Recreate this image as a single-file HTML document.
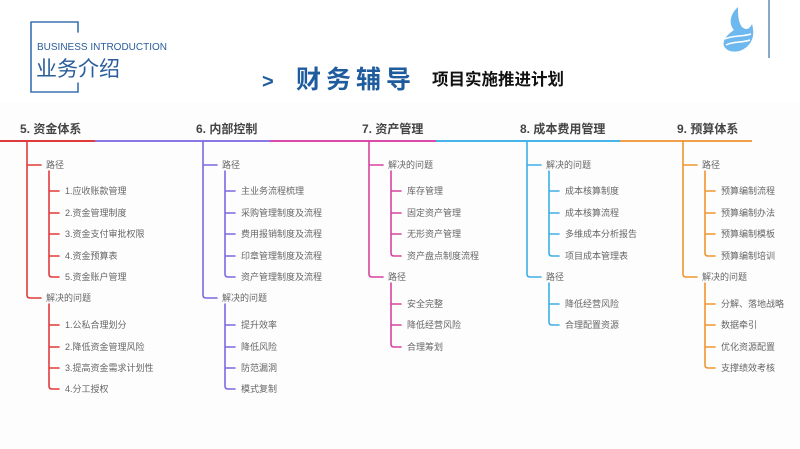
<!DOCTYPE html>
<html><head><meta charset="utf-8"><style>
html,body{margin:0;padding:0;background:#fff;}
svg{display:block;}
text{font-family:"Liberation Sans","Noto Sans CJK SC",sans-serif;}
.t{font-size:9px;fill:#666;}
.h{font-size:12px;font-weight:bold;fill:#444;}
.ln{fill:none;stroke-width:1.6;stroke-linecap:round;}
</style></head><body>
<svg width="800" height="449" viewBox="0 0 800 449" xmlns="http://www.w3.org/2000/svg">
<rect x="0" y="0" width="800" height="449" fill="#fff"/>
<rect x="0" y="103" width="800" height="346" fill="#fdfdfd"/>
<!-- header -->
<path class="ln" d="M31 22H78V32M31 22V92H78V83" stroke="#3a72b0" stroke-width="1.3"/>
<text x="37" y="50" style="font-size:10px;fill:#2a5d9a">BUSINESS INTRODUCTION</text>
<text x="36" y="76" style="font-size:21px;fill:#2a5d9a">业务介绍</text>
<text x="262" y="88" style="font-size:20px;font-weight:bold;fill:#1f5c9e">&gt;</text>
<text x="296" y="88" style="font-size:25px;font-weight:bold;fill:#1f5c9e;letter-spacing:5px">财务辅导</text>
<text x="432" y="85" style="font-size:16.5px;font-weight:bold;fill:#111">项目实施推进计划</text>
<path d="M738 7C728 16 730 26 734 30C728 34 722 40 724 46C727 52 735 53 742 50C750 46 756 38 752 24C749 30 746 30 742 27C738 22 738 14 738 7Z" style="fill:#6db8ee;stroke:none"/>
<path d="M725 39C733 35 742 37 751 34M726 45C734 41 742 43 750 40" style="fill:none;stroke:#fff;stroke-width:1.5"/>
<line x1="769" y1="0" x2="769" y2="58" stroke="#3a6fa8" stroke-width="1.2"/>
<!-- top bar -->
<line x1="0" y1="141" x2="95" y2="141" stroke="#e03b3b" stroke-width="2"/>
<line x1="95" y1="141" x2="270" y2="141" stroke="#8a78e6" stroke-width="2"/>
<line x1="270" y1="141" x2="436" y2="141" stroke="#dc4aa8" stroke-width="2"/>
<line x1="436" y1="141" x2="620" y2="141" stroke="#45b5ea" stroke-width="2"/>
<line x1="620" y1="141" x2="752" y2="141" stroke="#f0a048" stroke-width="2"/>
<text class="h" x="20" y="133">5. 资金体系</text>
<text class="h" x="196" y="133">6. 内部控制</text>
<text class="h" x="362" y="133">7. 资产管理</text>
<text class="h" x="520" y="133">8. 成本费用管理</text>
<text class="h" x="677" y="133">9. 预算体系</text>

<!-- col5 red -->
<g stroke="#e03b3b">
<path class="ln" d="M27 141V295Q27 298 30 298H41M27 165H41"/>
<path class="ln" d="M49 171V274Q49 277 52 277H59M49 191H59M49 213H59M49 234H59M49 256H59"/>
<path class="ln" d="M49 304V386Q49 389 52 389H59M49 325H59M49 347H59M49 368H59"/>
</g>
<text class="t" x="46" y="168">路径</text>
<text class="t" x="65" y="194">1.应收账款管理</text>
<text class="t" x="65" y="216">2.资金管理制度</text>
<text class="t" x="65" y="237">3.资金支付审批权限</text>
<text class="t" x="65" y="259">4.资金预算表</text>
<text class="t" x="65" y="280">5.资金账户管理</text>
<text class="t" x="46" y="301">解决的问题</text>
<text class="t" x="65" y="328">1.公私合理划分</text>
<text class="t" x="65" y="350">2.降低资金管理风险</text>
<text class="t" x="65" y="371">3.提高资金需求计划性</text>
<text class="t" x="65" y="392">4.分工授权</text>

<!-- col6 purple -->
<g stroke="#7d6ae2">
<path class="ln" d="M203 141V295Q203 298 206 298H217M203 165H217"/>
<path class="ln" d="M225 171V274Q225 277 228 277H235M225 191H235M225 213H235M225 234H235M225 256H235"/>
<path class="ln" d="M225 304V386Q225 389 228 389H235M225 325H235M225 347H235M225 368H235"/>
</g>
<text class="t" x="222" y="168">路径</text>
<text class="t" x="241" y="194">主业务流程梳理</text>
<text class="t" x="241" y="216">采购管理制度及流程</text>
<text class="t" x="241" y="237">费用报销制度及流程</text>
<text class="t" x="241" y="259">印章管理制度及流程</text>
<text class="t" x="241" y="280">资产管理制度及流程</text>
<text class="t" x="222" y="301">解决的问题</text>
<text class="t" x="241" y="328">提升效率</text>
<text class="t" x="241" y="350">降低风险</text>
<text class="t" x="241" y="371">防范漏洞</text>
<text class="t" x="241" y="392">模式复制</text>

<!-- col7 pink -->
<g stroke="#d6439f">
<path class="ln" d="M369 141V274Q369 277 372 277H383M369 165H383"/>
<path class="ln" d="M391 171V253Q391 256 394 256H401M391 191H401M391 213H401M391 234H401"/>
<path class="ln" d="M391 283V344Q391 347 394 347H401M391 304H401M391 325H401"/>
</g>
<text class="t" x="388" y="168">解决的问题</text>
<text class="t" x="407" y="194">库存管理</text>
<text class="t" x="407" y="216">固定资产管理</text>
<text class="t" x="407" y="237">无形资产管理</text>
<text class="t" x="407" y="259">资产盘点制度流程</text>
<text class="t" x="388" y="280">路径</text>
<text class="t" x="407" y="307">安全完整</text>
<text class="t" x="407" y="328">降低经营风险</text>
<text class="t" x="407" y="350">合理筹划</text>

<!-- col8 blue -->
<g stroke="#3eaee6">
<path class="ln" d="M527 141V274Q527 277 530 277H541M527 165H541"/>
<path class="ln" d="M549 171V253Q549 256 552 256H559M549 191H559M549 213H559M549 234H559"/>
<path class="ln" d="M549 283V322Q549 325 552 325H559M549 304H559"/>
</g>
<text class="t" x="546" y="168">解决的问题</text>
<text class="t" x="565" y="194">成本核算制度</text>
<text class="t" x="565" y="216">成本核算流程</text>
<text class="t" x="565" y="237">多维成本分析报告</text>
<text class="t" x="565" y="259">项目成本管理表</text>
<text class="t" x="546" y="280">路径</text>
<text class="t" x="565" y="307">降低经营风险</text>
<text class="t" x="565" y="328">合理配置资源</text>

<!-- col9 orange -->
<g stroke="#f0962f">
<path class="ln" d="M683 141V274Q683 277 686 277H697M683 165H697"/>
<path class="ln" d="M705 171V253Q705 256 708 256H715M705 191H715M705 213H715M705 234H715"/>
<path class="ln" d="M705 283V365Q705 368 708 368H715M705 304H715M705 325H715M705 347H715"/>
</g>
<text class="t" x="702" y="168">路径</text>
<text class="t" x="721" y="194">预算编制流程</text>
<text class="t" x="721" y="216">预算编制办法</text>
<text class="t" x="721" y="237">预算编制模板</text>
<text class="t" x="721" y="259">预算编制培训</text>
<text class="t" x="702" y="280">解决的问题</text>
<text class="t" x="721" y="307">分解、落地战略</text>
<text class="t" x="721" y="328">数据牵引</text>
<text class="t" x="721" y="350">优化资源配置</text>
<text class="t" x="721" y="371">支撑绩效考核</text>
</svg>
</body></html>
